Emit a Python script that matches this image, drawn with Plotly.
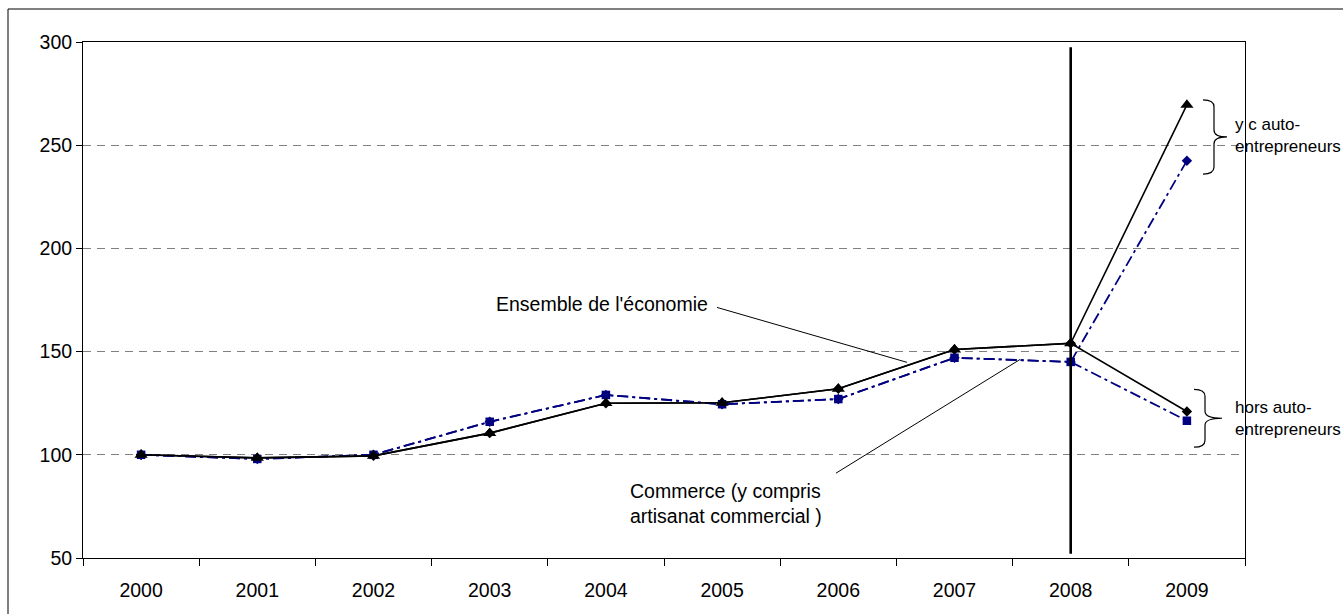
import plotly.graph_objects as go

# Index values (base 100 in 2000)
years = ["2000", "2001", "2002", "2003", "2004", "2005", "2006", "2007", "2008", "2009"]
ensemble_yc = [100, 98.5, 99.5, 110.5, 125, 125.2, 132, 151, 154, 269.5]
ensemble_hors = [100, 98.5, 99.5, 110.5, 125, 125.2, 132, 151, 154, 121]
commerce_yc = [100, 98, 100, 116, 129, 124.5, 127, 147, 145, 242.5]
commerce_hors = [100, 98, 100, 116, 129, 124.5, 127, 147, 145, 116.5]

y_ticks = [50, 100, 150, 200, 250, 300]
Y_MIN, Y_MAX = 50, 300

NAVY = "#000080"
FONT = "Liberation Sans, Arial, sans-serif"
FS = 19.5

W, H = 1343, 614
ML, MR, MT, MB = 83, 98, 42, 56
PW = W - ML - MR
PH = H - MT - MB


def px_x(px):
    """Pixel column -> paper x."""
    return (px - ML) / PW


def val_y(v):
    """Axis value -> paper y."""
    return (v - Y_MIN) / (Y_MAX - Y_MIN)


def brace(x_end, x_spine, x_tip, v_top, v_bot, curl=7):
    xe, xs, xt = px_x(x_end), px_x(x_spine), px_x(x_tip)
    yt, yb = val_y(v_top), val_y(v_bot)
    ym = (yt + yb) / 2
    c = curl / PH
    return (f"M{xe},{yt} Q{xs},{yt} {xs},{yt - c} L{xs},{ym + c} "
            f"Q{xs},{ym} {xt},{ym} Q{xs},{ym} {xs},{ym - c} "
            f"L{xs},{yb + c} Q{xs},{yb} {xe},{yb}")


fig = go.Figure()

dashdot = "11px,4px,3px,4px"
# diamond series first so squares / triangles sit on top where values coincide
fig.add_trace(go.Scatter(
    x=years, y=commerce_yc, mode="lines+markers",
    line=dict(color=NAVY, width=1.8, dash=dashdot),
    marker=dict(symbol="diamond", size=8, color=NAVY),
    name="Commerce y c auto-entrepreneurs"))
fig.add_trace(go.Scatter(
    x=years, y=ensemble_hors, mode="lines+markers",
    line=dict(color="black", width=1.6),
    marker=dict(symbol="diamond", size=8, color="black"),
    name="Ensemble hors auto-entrepreneurs"))
fig.add_trace(go.Scatter(
    x=years, y=commerce_hors, mode="lines+markers",
    line=dict(color=NAVY, width=1.8, dash=dashdot),
    marker=dict(symbol="square", size=8.5, color=NAVY),
    name="Commerce hors auto-entrepreneurs"))
fig.add_trace(go.Scatter(
    x=years, y=ensemble_yc, mode="lines+markers",
    line=dict(color="black", width=1.6),
    marker=dict(symbol="triangle-up", size=11.5, color="black"),
    name="Ensemble y c auto-entrepreneurs"))

i2008 = years.index("2008")

shapes = [
    # outer frame of the chart
    dict(type="rect", xref="paper", yref="paper",
         x0=px_x(8), x1=px_x(1360), y0=(H - MB - 640) / PH, y1=(H - MB - 9) / PH,
         line=dict(color="black", width=1), fillcolor="rgba(0,0,0,0)", layer="below"),
    # break marker at 2008
    dict(type="line", xref="x", yref="y", x0=i2008, x1=i2008, y0=52, y1=297.5,
         line=dict(color="black", width=2.6)),
    # leader lines for the series labels
    dict(type="line", xref="x", yref="y", x0=4.956, y0=171.4, x1=6.591, y1=144.8,
         line=dict(color="black", width=1)),
    dict(type="line", xref="x", yref="y", x0=5.98, y0=91.1, x1=7.564, y1=146.2,
         line=dict(color="black", width=1)),
    # braces grouping the 2009 values
    dict(type="path", xref="paper", yref="paper",
         path=brace(1203, 1214, 1227, 272, 236), line=dict(color="black", width=1.2)),
    dict(type="path", xref="paper", yref="paper",
         path=brace(1194, 1205, 1222, 131.7, 103.7), line=dict(color="black", width=1.2)),
]

annotations = [
    dict(text="Ensemble de l'économie", xref="x", yref="y", x=3.037, y=173.3,
         xanchor="left", yanchor="middle", showarrow=False),
    dict(text="Commerce (y compris<br>artisanat commercial )", xref="x", yref="y",
         x=4.19, y=76.6, xanchor="left", yanchor="middle", align="left", showarrow=False),
    dict(text="y c auto-<br>entrepreneurs", xref="paper", yref="y",
         x=px_x(1233), y=254.5, xanchor="left", yanchor="middle", align="left",
         showarrow=False, font=dict(size=17)),
    dict(text="hors auto-<br>entrepreneurs", xref="paper", yref="y",
         x=px_x(1233), y=117.7, xanchor="left", yanchor="middle", align="left",
         showarrow=False, font=dict(size=17)),
]

fig.update_layout(
    width=W, height=H,
    margin=dict(l=ML, r=MR, t=MT, b=MB, pad=0),
    paper_bgcolor="white", plot_bgcolor="white",
    showlegend=False,
    font=dict(family=FONT, size=FS, color="black"),
    shapes=shapes,
    annotations=annotations,
    xaxis=dict(
        type="category", categoryorder="array", categoryarray=years,
        range=[-0.5, len(years) - 0.5], autorange=False,
        showline=True, linecolor="black", linewidth=1, mirror=True,
        ticks="outside", tickson="boundaries", ticklen=7, tickcolor="black",
        showgrid=False, zeroline=False, tickangle=0,
        tickfont=dict(family=FONT, size=FS, color="black"),
        ticklabelstandoff=15,
    ),
    yaxis=dict(
        range=[Y_MIN, Y_MAX], tickvals=y_ticks, autorange=False,
        showline=True, linecolor="black", linewidth=1, mirror=True,
        ticks="outside", ticklen=6, tickcolor="black",
        showgrid=True, gridcolor="#808080", gridwidth=1, griddash="8px,6px",
        zeroline=False,
        tickfont=dict(family=FONT, size=FS, color="black"),
    ),
)

fig.write_html("out.html")
